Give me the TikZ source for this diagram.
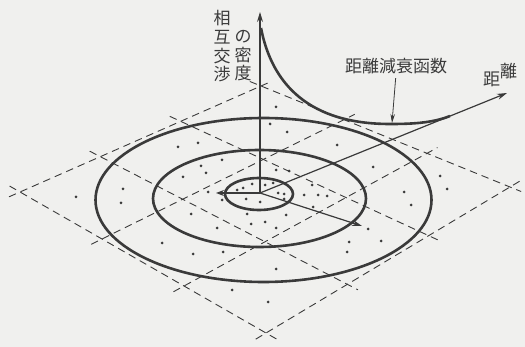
\documentclass[tikz,border=0pt]{standalone}
\usepackage{fontspec}
\newfontfamily\jpfont{Noto Sans CJK JP}
\usepackage{xcolor}
\usepackage{tikz}
\usetikzlibrary{arrows.meta, calc}

\definecolor{paper}{RGB}{240,240,238}
\definecolor{ink}{RGB}{58,58,58}

\begin{document}
\begin{tikzpicture}[x=1pt, y=-1pt,
        ring/.style={draw=ink, line width=2.6pt},
        axis/.style={draw=ink, line width=1.2pt, -{Stealth[length=10pt, width=6pt]}},
        gridline/.style={draw=ink, line width=0.9pt, dash pattern=on 7.5pt off 5pt},
        lab/.style={font=\jpfont\fontsize{17}{18.7}\selectfont, text=ink, inner sep=0pt, align=center}]
        % paper
        \fill[paper] (0,0) rectangle (525,347);
        \useasboundingbox (0,0) rectangle (525,347);

        % corners of the ground plane
        \coordinate (L) at (20,192);
        \coordinate (T) at (261,86);
        \coordinate (R) at (510,187);
        \coordinate (B) at (266,333);

        % dashed grid
        \foreach \i in {0,1,2,3} {
            \coordinate (a) at ($(L)!\i/3!(T)$);
            \coordinate (b) at ($(B)!\i/3!(R)$);
            \draw[gridline] ($(a)!-12pt!(b)$) -- ($(b)!-12pt!(a)$);
            \coordinate (c) at ($(L)!\i/3!(B)$);
            \coordinate (d) at ($(T)!\i/3!(R)$);
            \draw[gridline] ($(c)!-12pt!(d)$) -- ($(d)!-12pt!(c)$);
        }

        % rings
        \draw[ring] (263.5,200) ellipse [x radius=168pt, y radius=82pt];
        \draw[ring] (259.5,198.5) ellipse [x radius=106.5pt, y radius=48.5pt];
        \draw[ring] (259,194) ellipse [x radius=34pt, y radius=16pt];

        % people
        \foreach \p in {(76,197), (123,189), (121,203), (178,147), (198,143), (222,160),
            (201,166), (206,173), (183,177), (208,192), (222,200), (237,190), (243,188),
            (252,184), (246,199), (260,202), (191,214), (217,228), (162,243), (193,254),
            (223,252), (247,214), (251,224), (265,222), (286,215), (276,228), (313,207),
            (276,107), (270,124), (287,132), (337,145), (373,167), (440,176), (447,189),
            (276,170), (289,171), (265,185), (273,183), (278,193), (284,194), (284,199),
            (312,185), (304,195), (318,195), (327,196), (404,192), (411,205), (368,229),
            (349,242), (347,252), (381,241), (276,269), (232,290), (268,302)}
            \fill[ink] \p circle [radius=1.5pt];

        % axes
        \coordinate (o) at (260,193);
        \coordinate (ztip) at (260,12);
        \coordinate (dtip) at (507,93);
        \coordinate (rtip) at (362,226);
        \coordinate (ltip) at (216,193);
        \draw[axis] (o) -- (ztip);
        \draw[axis] (o) -- (dtip);
        \draw[axis] (o) -- (rtip);
        \draw[axis, -{Stealth[open, length=8pt, width=6pt]}] (o) -- (ltip);

        % decay curve
        \draw[ring] (261,28) .. controls (272,85) and (310,124) .. (390,124)
            .. controls (410,124) and (432,123.3) .. (450,116);

        % labels
        \node[lab] (vlab1) at (222,46.5) {相\\互\\交\\渉};
        \node[lab] (vlab2) at (243,55.7) {の\\密\\度};
        \node[lab] (fname) at (396,66) {距離減衰函数};
        \node[lab, anchor=base west] (dlab) at (483,86) {距\raisebox{8pt}{離}};

        \coordinate (hit) at (392,123);
        \draw[draw=ink, line width=0.8pt, -{Stealth[length=9pt, width=4.5pt]}, shorten <=4pt] (fname.south) -- (hit);
    \end{tikzpicture}
\end{document}
